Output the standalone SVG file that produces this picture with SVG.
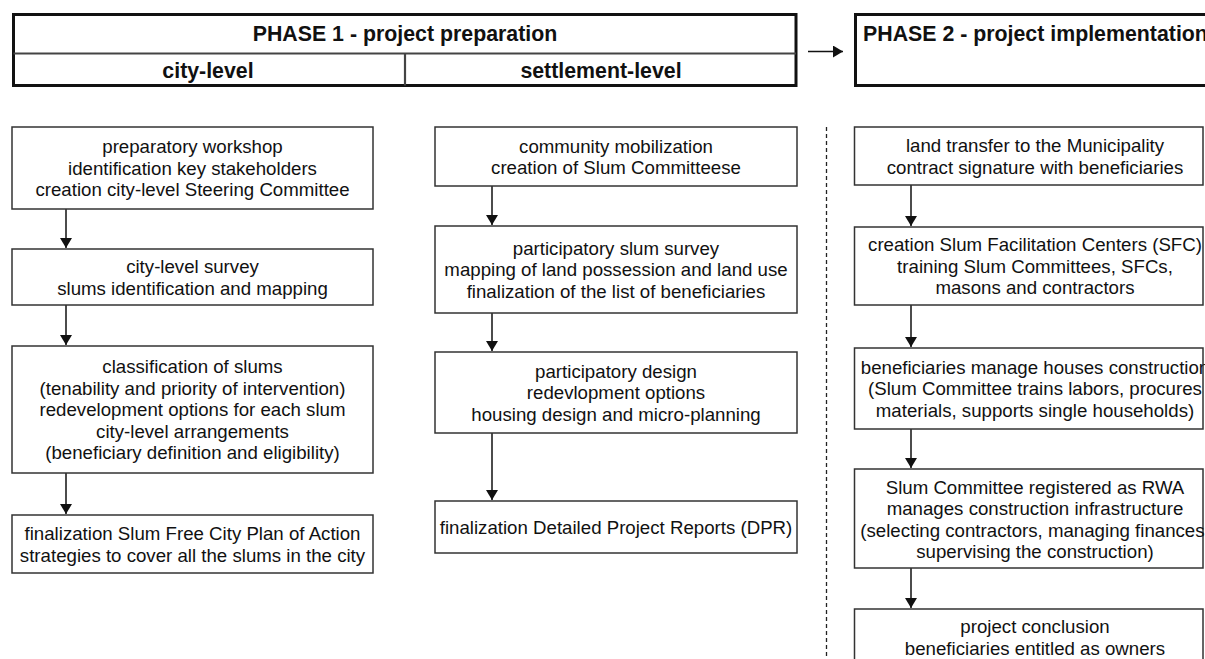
<svg xmlns="http://www.w3.org/2000/svg" width="1205" height="659" viewBox="0 0 1205 659">
<style>
  text { font-family: "Liberation Sans", Arial, sans-serif; fill: #111; text-anchor: middle; }
  .t { font-size: 18.67px; }
  .h { font-size: 21.33px; font-weight: bold; }
  .box { fill: #fff; stroke: #333; stroke-width: 1.5; }
  .hdr { fill: none; stroke: #111; stroke-width: 3; }
  .div { stroke: #444; stroke-width: 2.2; }
  .conn { stroke: #111; stroke-width: 1.5; fill: none; marker-end: url(#ah); }
  .dash { stroke: #222; stroke-width: 1.3; stroke-dasharray: 4 3; }
</style>
<defs>
  <marker id="ah" markerWidth="10" markerHeight="12" refX="10" refY="6" orient="auto" markerUnits="userSpaceOnUse">
    <path d="M0,0 L10,6 L0,12 Z" fill="#111"/>
  </marker>
</defs>
<rect width="1205" height="659" fill="#fff"/>

<g id="phase1-header">
  <rect class="hdr" x="13.5" y="14.5" width="782.5" height="71"/>
  <line class="div" x1="13.5" y1="53.5" x2="796" y2="53.5"/>
  <line class="div" x1="405" y1="53.5" x2="405" y2="85.5"/>
  <text class="h" x="405" y="41">PHASE 1 - project preparation</text>
  <text class="h" x="208" y="77.5">city-level</text>
  <text class="h" x="601" y="77.5">settlement-level</text>
</g>

<g id="phase2-header">
  <rect class="hdr" x="855.5" y="14.5" width="360" height="71"/>
  <text class="h" x="863" y="40.5" style="text-anchor:start">PHASE 2 - project implementation</text>
</g>

<g id="connectors">
  <line class="conn" x1="808" y1="51.5" x2="843" y2="51.5"/>
  <line class="conn" x1="66" y1="209" x2="66" y2="248"/>
  <line class="conn" x1="66" y1="305" x2="66" y2="345"/>
  <line class="conn" x1="66" y1="473" x2="66" y2="514"/>
  <line class="conn" x1="492" y1="186" x2="492" y2="225"/>
  <line class="conn" x1="492" y1="313" x2="492" y2="351"/>
  <line class="conn" x1="492" y1="433" x2="492" y2="500"/>
  <line class="conn" x1="911" y1="185" x2="911" y2="226"/>
  <line class="conn" x1="911" y1="305" x2="911" y2="347"/>
  <line class="conn" x1="911" y1="429" x2="911" y2="468"/>
  <line class="conn" x1="911" y1="568" x2="911" y2="608"/>
  <line class="dash" x1="826.5" y1="127" x2="826.5" y2="659"/>
</g>

<g id="c1">
  <rect class="box" x="12" y="127" width="361" height="82"/>
  <text class="t" x="192.5" y="153">preparatory workshop</text>
  <text class="t" x="192.5" y="174.5">identification key stakeholders</text>
  <text class="t" x="192.5" y="196">creation city-level Steering Committee</text>
</g>
<g id="c2">
  <rect class="box" x="12" y="249" width="361" height="56"/>
  <text class="t" x="192.5" y="273">city-level survey</text>
  <text class="t" x="192.5" y="294.5">slums identification and mapping</text>
</g>
<g id="c3">
  <rect class="box" x="12" y="346" width="361" height="127"/>
  <text class="t" x="192.5" y="373">classification of slums</text>
  <text class="t" x="192.5" y="394.5">(tenability and priority of intervention)</text>
  <text class="t" x="192.5" y="416">redevelopment options for each slum</text>
  <text class="t" x="192.5" y="437.5">city-level arrangements</text>
  <text class="t" x="192.5" y="459">(beneficiary definition and eligibility)</text>
</g>
<g id="c4">
  <rect class="box" x="12" y="515" width="361" height="58"/>
  <text class="t" x="192.5" y="540">finalization Slum Free City Plan of Action</text>
  <text class="t" x="192.5" y="561.5">strategies to cover all the slums in the city</text>
</g>

<g id="s1">
  <rect class="box" x="435" y="127" width="362" height="59"/>
  <text class="t" x="616" y="152.5">community mobilization</text>
  <text class="t" x="616" y="174">creation of Slum Committeese</text>
</g>
<g id="s2">
  <rect class="box" x="435" y="226" width="362" height="87"/>
  <text class="t" x="616" y="254.5">participatory slum survey</text>
  <text class="t" x="616" y="276">mapping of land possession and land use</text>
  <text class="t" x="616" y="297.5">finalization of the list of beneficiaries</text>
</g>
<g id="s3">
  <rect class="box" x="435" y="352" width="362" height="81"/>
  <text class="t" x="616" y="377.5">participatory design</text>
  <text class="t" x="616" y="399">redevlopment options</text>
  <text class="t" x="616" y="420.5">housing design and micro-planning</text>
</g>
<g id="s4">
  <rect class="box" x="435" y="501" width="362" height="52"/>
  <text class="t" x="616" y="533.5">finalization Detailed Project Reports (DPR)</text>
</g>

<g id="p1">
  <rect class="box" x="854.5" y="127" width="348.5" height="58"/>
  <text class="t" x="1035" y="152">land transfer to the Municipality</text>
  <text class="t" x="1035" y="173.5">contract signature with beneficiaries</text>
</g>
<g id="p2">
  <rect class="box" x="854.5" y="227" width="348.5" height="78"/>
  <text class="t" x="1035" y="251">creation Slum Facilitation Centers (SFC)</text>
  <text class="t" x="1035" y="272.5">training Slum Committees, SFCs,</text>
  <text class="t" x="1035" y="294">masons and contractors</text>
</g>
<g id="p3">
  <rect class="box" x="854.5" y="348" width="348.5" height="81"/>
  <text class="t" x="1035" y="373.5">beneficiaries manage houses construction</text>
  <text class="t" x="1035" y="395">(Slum Committee trains labors, procures</text>
  <text class="t" x="1035" y="416.5">materials, supports single households)</text>
</g>
<g id="p4">
  <rect class="box" x="854.5" y="469" width="348.5" height="99"/>
  <text class="t" x="1035" y="493.5">Slum Committee registered as RWA</text>
  <text class="t" x="1035" y="515">manages construction infrastructure</text>
  <text class="t" x="1035" y="536.5">(selecting contractors, managing finances,</text>
  <text class="t" x="1035" y="558">supervising the construction)</text>
</g>
<g id="p5">
  <rect class="box" x="854.5" y="609" width="348.5" height="70"/>
  <text class="t" x="1035" y="633">project conclusion</text>
  <text class="t" x="1035" y="654.5">beneficiaries entitled as owners</text>
</g>
</svg>
